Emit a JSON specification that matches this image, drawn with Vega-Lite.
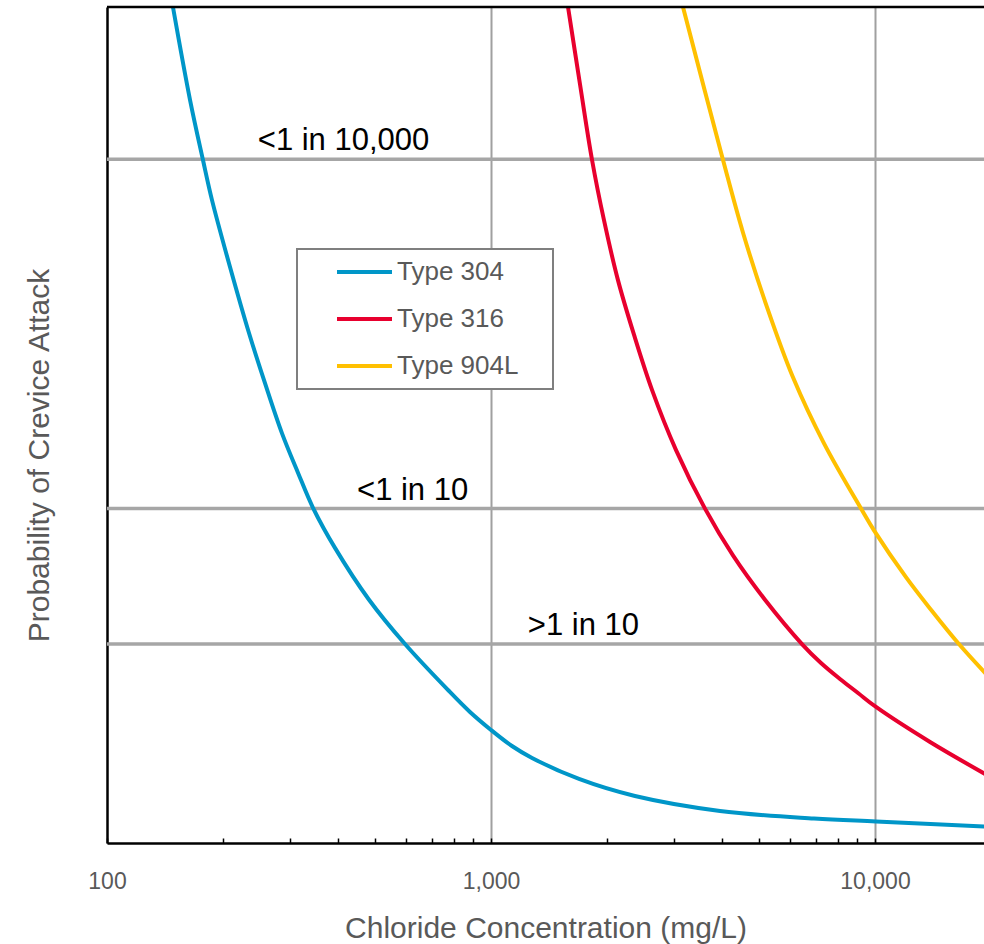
{
  "$schema": "https://vega.github.io/schema/vega-lite/v6.json",
  "width": 877,
  "height": 836,
  "autosize": {"type": "none"},
  "padding": {"left": 107, "top": 7, "right": 0, "bottom": 101},
  "background": "white",
  "config": {
    "view": {"stroke": null},
    "legend": {"strokeWidth": 2}
  },
  "datasets": {
    "curves": [
      {"type": "Type 304", "x": 148.5, "y": 100},
      {"type": "Type 304", "x": 164.5, "y": 88.9},
      {"type": "Type 304", "x": 177.8, "y": 81.7},
      {"type": "Type 304", "x": 187.7, "y": 76.9},
      {"type": "Type 304", "x": 209.1, "y": 68.9},
      {"type": "Type 304", "x": 234.3, "y": 61.0},
      {"type": "Type 304", "x": 257.9, "y": 55.0},
      {"type": "Type 304", "x": 285.6, "y": 49.0},
      {"type": "Type 304", "x": 314.3, "y": 44.3},
      {"type": "Type 304", "x": 343.9, "y": 40.1},
      {"type": "Type 304", "x": 392.4, "y": 35.3},
      {"type": "Type 304", "x": 481.2, "y": 29.1},
      {"type": "Type 304", "x": 597.1, "y": 23.8},
      {"type": "Type 304", "x": 772.8, "y": 18.3},
      {"type": "Type 304", "x": 881.6, "y": 15.67},
      {"type": "Type 304", "x": 1000, "y": 13.52},
      {"type": "Type 304", "x": 1134, "y": 11.6},
      {"type": "Type 304", "x": 1279, "y": 10.17},
      {"type": "Type 304", "x": 1695, "y": 7.66},
      {"type": "Type 304", "x": 2371, "y": 5.62},
      {"type": "Type 304", "x": 3948, "y": 3.83},
      {"type": "Type 304", "x": 6937, "y": 2.93},
      {"type": "Type 304", "x": 10060, "y": 2.57},
      {"type": "Type 304", "x": 19570, "y": 1.97},
      {"type": "Type 316", "x": 1587, "y": 100},
      {"type": "Type 316", "x": 1706, "y": 90.7},
      {"type": "Type 316", "x": 1833, "y": 81.7},
      {"type": "Type 316", "x": 1969, "y": 74.5},
      {"type": "Type 316", "x": 2142, "y": 67.3},
      {"type": "Type 316", "x": 2357, "y": 60.8},
      {"type": "Type 316", "x": 2626, "y": 54.2},
      {"type": "Type 316", "x": 3033, "y": 47.0},
      {"type": "Type 316", "x": 3608, "y": 40.0},
      {"type": "Type 316", "x": 4267, "y": 34.4},
      {"type": "Type 316", "x": 5170, "y": 29.1},
      {"type": "Type 316", "x": 6455, "y": 23.8},
      {"type": "Type 316", "x": 7234, "y": 21.53},
      {"type": "Type 316", "x": 8106, "y": 19.62},
      {"type": "Type 316", "x": 9032, "y": 17.94},
      {"type": "Type 316", "x": 10060, "y": 16.27},
      {"type": "Type 316", "x": 13910, "y": 12.08},
      {"type": "Type 316", "x": 19570, "y": 8.13},
      {"type": "Type 904L", "x": 3162, "y": 100},
      {"type": "Type 904L", "x": 4020, "y": 81.7},
      {"type": "Type 904L", "x": 4532, "y": 73.0},
      {"type": "Type 904L", "x": 5233, "y": 64.1},
      {"type": "Type 904L", "x": 6115, "y": 55.7},
      {"type": "Type 904L", "x": 7365, "y": 47.8},
      {"type": "Type 904L", "x": 9251, "y": 39.8},
      {"type": "Type 904L", "x": 9940, "y": 37.4},
      {"type": "Type 904L", "x": 12040, "y": 31.8},
      {"type": "Type 904L", "x": 13990, "y": 27.9},
      {"type": "Type 904L", "x": 16540, "y": 23.8},
      {"type": "Type 904L", "x": 19570, "y": 20.1}
    ],
    "refs": [
      {"y": 81.8, "x": 413, "label": "<1 in 10,000"},
      {"y": 40.0, "x": 625, "label": "<1 in 10"},
      {"y": 23.8, "x": 1741, "label": ">1 in 10"}
    ]
  },
  "layer": [
    {
      "data": {"name": "refs"},
      "mark": {"type": "rule", "color": "#a6a6a6", "strokeWidth": 3.5},
      "encoding": {
        "y": {"field": "y", "type": "quantitative", "title": "Probability of Crevice Attack"}
      }
    },
    {
      "data": {"name": "curves"},
      "mark": {"type": "line", "interpolate": "catmull-rom", "strokeWidth": 4, "clip": true},
      "encoding": {
        "x": {
          "field": "x", "type": "quantitative",
          "scale": {"type": "log", "domain": [100, 19225], "nice": false},
          "axis": {
            "title": "Chloride Concentration (mg/L)",
            "values": [100, 200, 300, 400, 500, 600, 700, 800, 900, 1000, 2000, 3000, 4000, 5000, 6000, 7000, 8000, 9000, 10000],
            "labelExpr": "(datum.value == 100 || datum.value == 1000 || datum.value == 10000) ? format(datum.value, ',') : ''",
            "labelFlush": false,
            "labelOverlap": false,
            "labelFont": "Liberation Sans, Arial, sans-serif",
            "labelFontSize": 23,
            "labelColor": "#595959",
            "labelBaseline": "alphabetic",
            "labelPadding": 50,
            "tickSize": -5,
            "tickColor": "black",
            "tickWidth": 1.5,
            "domainColor": "black",
            "domainWidth": 2.5,
            "grid": true,
            "gridColor": "#a0a0a0",
            "gridWidth": 2,
            "gridOpacity": {"condition": {"test": "datum.value == 1000 || datum.value == 10000", "value": 1}, "value": 0},
            "titleFont": "Liberation Sans, Arial, sans-serif",
            "titleFontSize": 30,
            "titleFontWeight": "normal",
            "titleColor": "#595959",
            "titleBaseline": "alphabetic",
            "titleY": 94
          }
        },
        "y": {
          "field": "y", "type": "quantitative",
          "scale": {"domain": [0, 100], "nice": false},
          "axis": {
            "title": "Probability of Crevice Attack",
            "ticks": false,
            "labels": false,
            "grid": false,
            "domainColor": "black",
            "domainWidth": 2.5,
            "titleFont": "Liberation Sans, Arial, sans-serif",
            "titleFontSize": 30,
            "titleFontWeight": "normal",
            "titleColor": "#595959",
            "titleBaseline": "alphabetic",
            "titleAlign": "center",
            "titleX": -59,
            "titleY": 448
          }
        },
        "color": {
          "field": "type", "type": "nominal",
          "scale": {"domain": ["Type 304", "Type 316", "Type 904L"], "range": ["#0096c8", "#e8002e", "#ffc000"]},
          "legend": {
            "title": "\u00a0",
            "titleOrient": "right",
            "titleFontSize": 4,
            "titlePadding": 25,
            "orient": "none",
            "legendX": 190,
            "legendY": 242,
            "padding": 10,
            "rowPadding": 21,
            "fillColor": "white",
            "strokeColor": "#7f7f7f",
            "symbolType": "M-5,0H5",
            "symbolSize": 121,
            "symbolStrokeWidth": 4,
            "symbolOffset": 44.5,
            "labelOffset": 19.5,
            "labelFont": "Liberation Sans, Arial, sans-serif",
            "labelFontSize": 26,
            "labelColor": "#595959"
          }
        }
      }
    },
    {
      "data": {"name": "refs"},
      "mark": {"type": "text", "align": "center", "baseline": "alphabetic", "dy": -9, "fontSize": 31, "color": "black", "font": "Liberation Sans, Arial, sans-serif"},
      "encoding": {
        "x": {"field": "x", "type": "quantitative", "title": "Chloride Concentration (mg/L)"},
        "y": {"field": "y", "type": "quantitative", "title": "Probability of Crevice Attack"},
        "text": {"field": "label", "type": "nominal"}
      }
    },
    {
      "data": {"values": [{}]},
      "mark": {"type": "rule", "color": "black", "strokeWidth": 2.5},
      "encoding": {"y": {"datum": 100}}
    }
  ]
}
